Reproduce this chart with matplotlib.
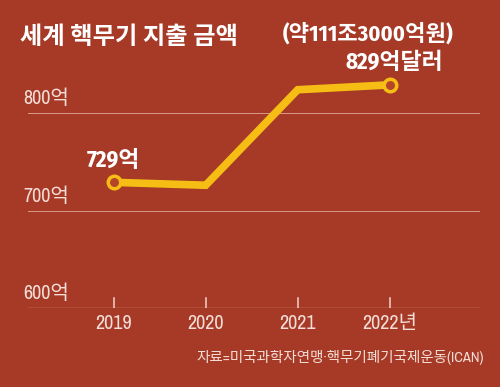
import matplotlib.pyplot as plt
import matplotlib.transforms as mtransforms
from matplotlib import font_manager

years = [2019, 2020, 2021, 2022]
spend = [729, 726, 824, 829]
xlabels = ['2019', '2020', '2021', '2022년']
yticks = [600, 700, 800]
ylabels = ['600억', '700억', '800억']

names = {f.name for f in font_manager.fontManager.ttflist}
narrow = 'Archivo Narrow' if 'Archivo Narrow' in names else 'DejaVu Sans'
bnarrow = 'Fira Sans Condensed' if 'Fira Sans Condensed' in names else narrow
fam = [narrow, 'Noto Sans CJK KR']
bfam = [bnarrow, 'Noto Sans CJK KR']
plt.rcParams['font.family'] = ['Noto Sans CJK KR', 'DejaVu Sans']

bg = '#A63A27'
yel = '#F6BE15'
pale = '#F3DDD6'

fig = plt.figure(figsize=(5, 3.87), dpi=100, facecolor=bg)
ax = fig.add_axes([0.056, 0.204, 0.904, 0.68], facecolor=bg)
ax.set_xlim(2018.07, 2022.98)
ax.set_ylim(600, 870)

for s in ax.spines.values():
    s.set_visible(False)
ax.set_xticks([])
ax.set_yticks([])

for v in yticks:
    ax.axhline(v, color='#D99A8C', lw=1.0 if v == 600 else 0.7, zorder=1)

# tick marks
for x in years:
    ax.plot([x, x], [600, 610.5], color='#EBC7BC', lw=1.2, zorder=2)

ax.plot(years, spend, color=yel, lw=5.5, solid_joinstyle='miter', zorder=3)
ax.plot([years[0], years[-1]], [spend[0], spend[-1]], 'o', ms=9,
        mfc='#B5452A', mec=yel, mew=2.5, zorder=4)

trans = mtransforms.blended_transform_factory(fig.transFigure, ax.transData)
for v, lab in zip(yticks, ylabels):
    ax.text(0.046, v + 5, lab, transform=trans, color=pale, fontsize=14.5,
            family=fam, ha='left', va='bottom')

for x, lab in zip(years, xlabels):
    ax.text(x, 584, lab, color=pale, fontsize=14.5, family=fam,
            ha='center', va='center')

fig.text(0.04, 0.905, '세계 핵무기 지출 금액', color='white', fontsize=17.5,
         fontweight='bold', ha='left', va='center')
fig.text(0.906, 0.913, '(약111조3000억원)', color='white', fontsize=16,
         fontweight='bold', family=bfam, ha='right', va='center')
fig.text(0.886, 0.84, '829억달러', color='white', fontsize=16.5,
         fontweight='bold', family=bfam, ha='right', va='center')
ax.text(years[0], 752, '729억', color='white', fontsize=16.5,
        fontweight='bold', family=bfam, ha='center', va='center')

fig.text(0.968, 0.077, '자료=미국과학자연맹·핵무기폐기국제운동(ICAN)', color=pale,
         fontsize=10.5, family=fam, ha='right', va='center')

fig.savefig('out.png', dpi=100, facecolor=bg)
